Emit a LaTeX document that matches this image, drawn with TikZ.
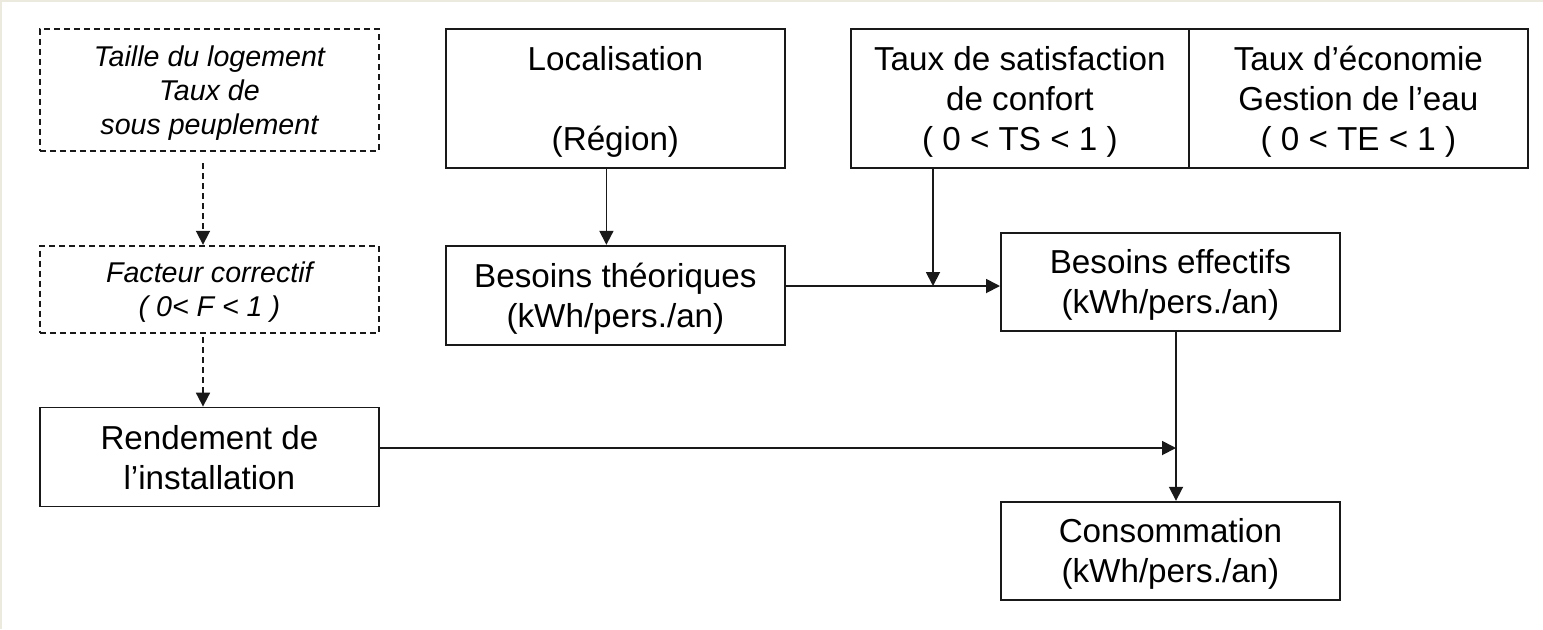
\documentclass[tikz,border=0pt]{standalone}
\usepackage{fontspec}
\setmainfont{Liberation Sans}
\usetikzlibrary{positioning,arrows.meta}
\definecolor{frame}{RGB}{236,234,222}
\definecolor{line}{RGB}{25,25,25}
\tikzset{box/.style={draw=line,line width=0.9pt,minimum width=169.5pt,inner sep=1pt,
           align=center,font=\fontsize{16.6}{20}\selectfont,text depth=-5pt},
         dbox/.style={box,dash pattern=on 3pt off 2pt,font=\fontsize{14.3}{17}\selectfont\itshape},
         arr/.style={-{Triangle[length=7pt,width=7pt]},draw=line,line width=0.9pt}}

\begin{document}
\begin{tikzpicture}[x=0.5pt,y=-0.5pt]
                   \fill[frame] (0,0) rectangle (1543,629);
                   \fill[white] (2,2) rectangle (1543,629);
                   \useasboundingbox (0,0) rectangle (1543,629);
                   \node[dbox,minimum height=61pt,anchor=north west] (taille) at (39,28)
                        {Taille du logement\\Taux de\\sous peuplement};
                   \node[dbox,minimum height=43.5pt] (facteur) [below=46.5pt of taille] {Facteur correctif\\( 0< F < 1 )};
                   \node[box,minimum height=49.5pt] (rendement) [below=36.5pt of facteur] {Rendement de\\l’installation};
                   \node[box,minimum height=69.5pt,anchor=north west] (loc) at (445,28) {Localisation\\[20pt](Région)};
                   \node[box,minimum height=69.5pt,minimum width=169pt,anchor=north west] (tauxsat) at (850,28)
                        {Taux de satisfaction\\de confort\\( 0 < TS < 1 )};
                   \node[box,minimum height=69.5pt] (tauxeco) [right=-0.9pt of tauxsat] {Taux d’économie\\Gestion de l’eau\\( 0 < TE < 1 )};
                   \node[box,minimum height=49.5pt] (theo) [below=38pt of loc] {Besoins théoriques\\(kWh/pers./an)};
                   \node[box,minimum height=49pt,anchor=north west] (eff) at (1000,232) {Besoins effectifs\\(kWh/pers./an)};
                   \node[box,minimum height=49pt] (conso) [below=84.5pt of eff] {Consommation\\(kWh/pers./an)};
                   \coordinate (d1) at (203,163);
                   \coordinate (d2) at (203,337);
                   \coordinate (j1) at (933,286);
                   \coordinate (j2) at (1176,448);
                   \draw[arr,dash pattern=on 3pt off 2pt] (d1) -- (d1 |- facteur.north);
                   \draw[arr,dash pattern=on 3pt off 2pt] (d2) -- (d2 |- rendement.north);
                   \draw[arr] ([xshift=-4.5pt]loc.south) -- ([xshift=-4.5pt]theo.north);
                   \draw[arr] (theo.east |- j1) -- (eff.west |- j1);
                   \draw[arr] (tauxsat.south -| j1) -- (j1);
                   \draw[arr] (rendement.east |- j2) -- (j2);
                   \draw[arr] (eff.south -| j2) -- (conso.north -| j2);
                \end{tikzpicture}
\end{document}
